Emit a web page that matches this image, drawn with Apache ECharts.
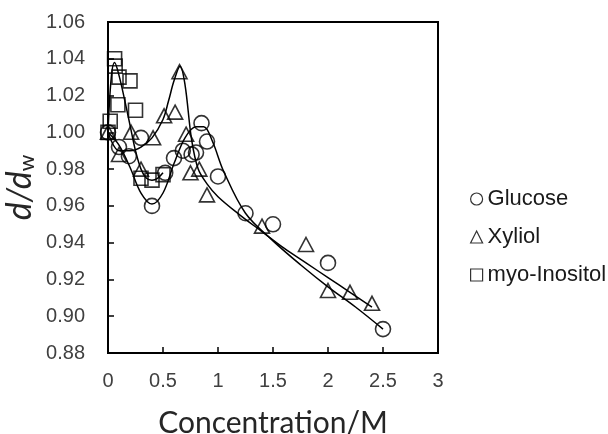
<!DOCTYPE html>
<html>
<head>
<meta charset="utf-8">
<script src="https://cdn.jsdelivr.net/npm/echarts@6/dist/echarts.min.js"></script>
<style>html,body{margin:0;padding:0;background:#fff;}#c{width:608px;height:434px;}</style>
</head>
<body>
<div id="c"></div>
<script>
// ---- data ----
const glucoseX = [0, 0.1, 0.19, 0.3, 0.4, 0.52, 0.6, 0.68, 0.76, 0.8, 0.85, 0.9, 1.0, 1.25, 1.5, 2.0, 2.5];
const glucoseY = [1.000, 0.992, 0.987, 0.997, 0.960, 0.978, 0.986, 0.990, 0.988, 0.989, 1.005, 0.995, 0.976, 0.956, 0.950, 0.929, 0.893];

const xylitolX = [0, 0.1, 0.21, 0.3, 0.41, 0.51, 0.61, 0.65, 0.71, 0.75, 0.83, 0.9, 1.4, 1.8, 2.0, 2.2, 2.4];
const xylitolY = [1.000, 0.988, 1.000, 0.980, 0.997, 1.009, 1.011, 1.033, 0.999, 0.978, 0.980, 0.966, 0.949, 0.939, 0.914, 0.913, 0.907];

const inositolX = [0, 0.02, 0.06, 0.065, 0.1, 0.2, 0.09, 0.25, 0.3, 0.4, 0.5];
const inositolY = [1.000, 1.006, 1.040, 1.036, 1.030, 1.028, 1.015, 1.012, 0.975, 0.974, 0.977];

// trend curves
const glucoseFitX = [0, 0.1, 0.2, 0.3, 0.4, 0.5, 0.6, 0.7, 0.8, 0.87, 0.95, 1.05, 1.25, 1.5, 1.75, 2.0, 2.25, 2.5];
const glucoseFitY = [1.000, 0.993, 0.981, 0.967, 0.961, 0.967, 0.983, 0.997, 1.003, 1.003, 0.995, 0.979, 0.956, 0.941, 0.928, 0.916, 0.905, 0.893];

const xylitolFitX = [0, 0.1, 0.2, 0.3, 0.4, 0.5, 0.55, 0.6, 0.655, 0.7, 0.76, 0.82, 0.9, 1.0, 1.2, 1.4, 1.6, 1.8, 2.0, 2.2, 2.4];
const xylitolFitY = [1.000, 0.990, 0.990, 0.992, 0.997, 1.007, 1.017, 1.028, 1.036, 1.026, 0.996, 0.980, 0.972, 0.965, 0.955, 0.946, 0.937, 0.929, 0.921, 0.913, 0.905];

const inositolFitX = [0, 0.03, 0.06, 0.1, 0.15, 0.2, 0.25, 0.3, 0.35, 0.4, 0.45, 0.5];
const inositolFitY = [1.000, 1.030, 1.038, 1.031, 1.018, 1.004, 0.990, 0.980, 0.975, 0.974, 0.975, 0.978];

const seriesNames = ['Glucose', 'Xyliol', 'myo-Inositol'];
const xTicks = { min: 0, max: 3, interval: 0.5 };
const yTicks = { min: 0.88, max: 1.06, interval: 0.02 };

function pairs(xs, ys) { return xs.map((x, i) => [x, ys[i]]); }

const chart = echarts.init(document.getElementById('c'), null, { renderer: 'canvas' });
const hollow = { color: 'rgba(0,0,0,0)', borderColor: '#000', borderWidth: 1.6 };
const lineStyle = { color: '#000', width: 1.5 };
const labelColor = '#404040';

chart.setOption({
  animation: false,
  backgroundColor: '#fff',
  grid: { left: 108, top: 22, width: 330, height: 331, containLabel: false, outerBoundsMode: 'none',
    show: true, borderColor: '#000', borderWidth: 2, backgroundColor: 'transparent' },
  xAxis: {
    type: 'value', min: xTicks.min, max: xTicks.max, interval: xTicks.interval,
    axisLine: { show: true, onZero: false, lineStyle: { color: '#000', width: 2 } },
    axisTick: { show: true, inside: true, length: 6, lineStyle: { color: '#000', width: 1.5 } },
    splitLine: { show: false },
    axisLabel: { fontFamily: 'Liberation Sans', fontSize: 20, color: labelColor, margin: 18,
      formatter: v => String(+v.toFixed(1)) },
    name: 'Concentration/M', nameLocation: 'middle', nameGap: 55, nameMoveOverlap: false,
    nameTextStyle: { fontFamily: 'Lato', fontSize: 30, color: '#262626' }
  },
  yAxis: {
    type: 'value', min: yTicks.min, max: yTicks.max, interval: yTicks.interval,
    axisLine: { show: true, onZero: false, lineStyle: { color: '#000', width: 2 } },
    axisTick: { show: true, inside: true, length: 6, lineStyle: { color: '#000', width: 1.5 } },
    splitLine: { show: false },
    axisLabel: { fontFamily: 'Liberation Sans', fontSize: 20, color: labelColor, margin: 23,
      formatter: v => v.toFixed(2) },
    name: '{i|d/d}{s|w}', nameLocation: 'middle', nameGap: 70, nameRotate: 90, nameMoveOverlap: false,
    nameTextStyle: {
      rich: {
        i: { fontFamily: 'Lato', fontStyle: 'italic', fontSize: 34, color: '#262626' },
        s: { fontFamily: 'Lato', fontSize: 21, color: '#262626', verticalAlign: 'bottom', padding: [15, 0, 0, 0] }
      }
    }
  },
  legend: {
    orient: 'vertical', left: 465, top: 183, itemWidth: 12, itemHeight: 12, itemGap: 16,
    textStyle: { fontFamily: 'Liberation Sans', fontSize: 22, color: '#1a1a1a' },
    selectedMode: false,
    data: [
      { name: seriesNames[0], icon: 'circle', itemStyle: { color: 'rgba(0,0,0,0)', borderColor: '#000', borderWidth: 1.2 } },
      { name: seriesNames[1], icon: 'triangle', itemStyle: { color: 'rgba(0,0,0,0)', borderColor: '#000', borderWidth: 1.2 } },
      { name: seriesNames[2], icon: 'rect', itemStyle: { color: 'rgba(0,0,0,0)', borderColor: '#000', borderWidth: 1.2 } }
    ]
  },
  series: [
    { type: 'line', name: 'gfit', data: pairs(glucoseFitX, glucoseFitY), showSymbol: false, smooth: 0.35, lineStyle, silent: true, z: 1 },
    { type: 'line', name: 'xfit', data: pairs(xylitolFitX, xylitolFitY), showSymbol: false, smooth: 0.35, lineStyle, silent: true, z: 1 },
    { type: 'line', name: 'ifit', data: pairs(inositolFitX, inositolFitY), showSymbol: false, smooth: 0.35, lineStyle, silent: true, z: 1 },
    { type: 'scatter', name: seriesNames[0], data: pairs(glucoseX, glucoseY), symbol: 'circle', symbolSize: 15, itemStyle: hollow, z: 2 },
    { type: 'scatter', name: seriesNames[1], data: pairs(xylitolX, xylitolY), symbol: 'triangle', symbolSize: [15, 14], itemStyle: hollow, z: 2 },
    { type: 'scatter', name: seriesNames[2], data: pairs(inositolX, inositolY), symbol: 'rect', symbolSize: 14, itemStyle: hollow, z: 2 }
  ]
});
</script>
</body>
</html>
